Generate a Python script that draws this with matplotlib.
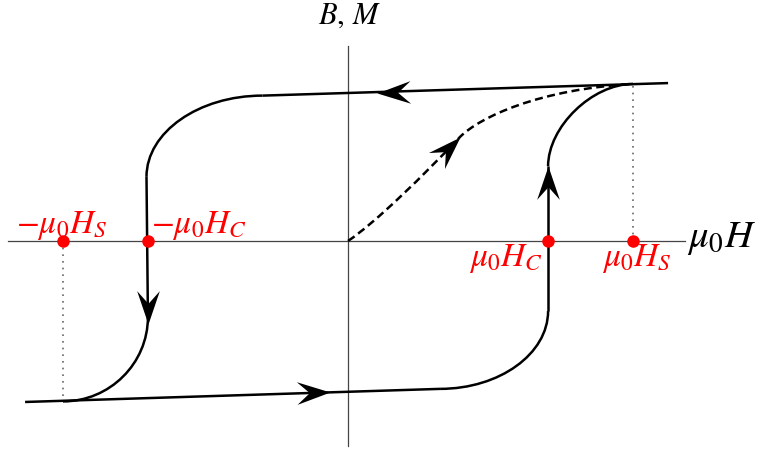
import matplotlib
matplotlib.use("Agg")
import matplotlib.pyplot as plt
from matplotlib.path import Path
from matplotlib.patches import PathPatch
from matplotlib.markers import MarkerStyle
from matplotlib.transforms import Affine2D

plt.rcParams['mathtext.fontset'] = 'stix'

# Characteristic fields (in units of the saturation field)
H_S = 1.0
H_C = 0.7

# Nearly flat saturated branches: (H, B) end points
top_line = [(-0.30, 0.510), (1.123, 0.554)]
bottom_line = [(-1.133, -0.565), (0.323, -0.519)]

# Descending branch: bend (start, corner, end), switching segment at -H_C, bend
desc_bend_top = [(-0.30, 0.510), (-0.707, 0.510), (-0.707, 0.225)]
desc_switch = [(-0.707, 0.225), (-0.702, -0.267)]
desc_bend_bottom = [(-0.702, -0.267), (-0.702, -0.563), (-1.0, -0.563)]

# Ascending branch
asc_bend_bottom = [(0.323, -0.519), (0.702, -0.519), (0.702, -0.246)]
asc_switch = [(0.702, -0.246), (0.702, 0.262)]
asc_bend_top = [(0.702, 0.262), (0.702, 0.551), (1.0, 0.551)]

# Initial magnetisation curve as two cubic Bezier segments
virgin_ctrl = [(0.0, 0.0), (0.095, 0.063), (0.270, 0.235), (0.393, 0.365),
               (0.463, 0.435), (0.674, 0.533), (1.0, 0.551)]

# Direction arrows: tip position and heading (degrees)
arrow_x = [0.102, -0.063, -0.702, 0.702, 0.393]
arrow_y = [0.519, -0.530, -0.291, 0.263, 0.365]
arrow_deg = [181.8, 1.8, -90, 90, 45]

# Marked points on the field axis
point_H = [-H_S, -H_C, H_C, H_S]
point_labels = [r"$-\mu_0H_S$", r"$-\mu_0H_C$", r"$\mu_0H_C$", r"$\mu_0H_S$"]

LW = 1.8
BLACK = "black"
RED = "#ff0000"


def bend_path(pts, k):
    (x0, y0), (cx, cy), (x1, y1) = pts
    c1 = (x0 + k * (cx - x0), y0 + k * (cy - y0))
    c2 = (x1 + k * (cx - x1), y1 + k * (cy - y1))
    return Path([(x0, y0), c1, c2, (x1, y1)],
                [Path.MOVETO, Path.CURVE4, Path.CURVE4, Path.CURVE4])


fig = plt.figure(figsize=(7.57, 4.52), dpi=100)
ax = fig.add_axes([0, 0, 1, 1])
ax.set_xlim(-1.221, 1.435)
ax.set_ylim(-0.737, 0.849)
ax.axis("off")

# Coordinate axes
ax.plot([-1.193, 1.182], [0, 0], color="#444444", lw=0.9, zorder=1)
ax.plot([0, 0], [-0.719, 0.684], color="#444444", lw=0.9, zorder=1)

# Dotted guides at +/- H_S
ax.plot([-H_S, -H_S], [0, bottom_line[0][1] + 0.003], color="#666666",
        lw=1.2, ls=(0, (1, 3)), zorder=1)
ax.plot([H_S, H_S], [0, asc_bend_top[2][1]], color="#666666",
        lw=1.2, ls=(0, (1, 3)), zorder=1)

# Hysteresis loop
for seg in (top_line, bottom_line, desc_switch, asc_switch):
    xs, ys = zip(*seg)
    ax.plot(xs, ys, color=BLACK, lw=LW, solid_capstyle="butt", zorder=3)

for pts, k in ((desc_bend_top, 0.55), (desc_bend_bottom, 0.55),
               (asc_bend_bottom, 0.55), (asc_bend_top, 0.48)):
    ax.add_patch(PathPatch(bend_path(pts, k), fc="none", ec=BLACK, lw=LW,
                           zorder=3))

# Initial curve (dashed)
virgin_path = Path(virgin_ctrl, [Path.MOVETO] + [Path.CURVE4] * 6)
ax.add_patch(PathPatch(virgin_path, fc="none", ec=BLACK, lw=LW,
                       ls=(0, (3.2, 1.8)), zorder=3))

# Stealth-style arrow heads, tip at the marker origin
head = Path([(0, 0), (-1, 0.34), (-0.62, 0), (-1, -0.34), (0, 0)],
            [Path.MOVETO, Path.LINETO, Path.LINETO, Path.LINETO, Path.CLOSEPOLY])
for x, y, a in zip(arrow_x, arrow_y, arrow_deg):
    m = MarkerStyle(head, transform=Affine2D().rotate_deg(a))
    ax.plot([x], [y], marker=m, ms=48, color=BLACK, mew=0, ls="none",
            zorder=4)

# Red points on the field axis
ax.plot(point_H, [0] * len(point_H), "o", color=RED, ms=9, mew=0, zorder=5)

# Labels
ax.text(-1.003, 0.030, point_labels[0], color=RED, fontsize=24,
        ha="center", va="baseline")
ax.text(-0.690, 0.030, point_labels[1], color=RED, fontsize=24,
        ha="left", va="baseline")
ax.text(0.683, -0.083, point_labels[2], color=RED, fontsize=24,
        ha="right", va="baseline")
ax.text(1.014, -0.083, point_labels[3], color=RED, fontsize=24,
        ha="center", va="baseline")
ax.text(1.189, -0.019, r"$\mu_0H$", color=BLACK, fontsize=28,
        ha="left", va="baseline")
ax.text(0.005, 0.766, r"$B,\,M$", color=BLACK, fontsize=22,
        ha="center", va="baseline")

fig.savefig("out.png", dpi=100)
